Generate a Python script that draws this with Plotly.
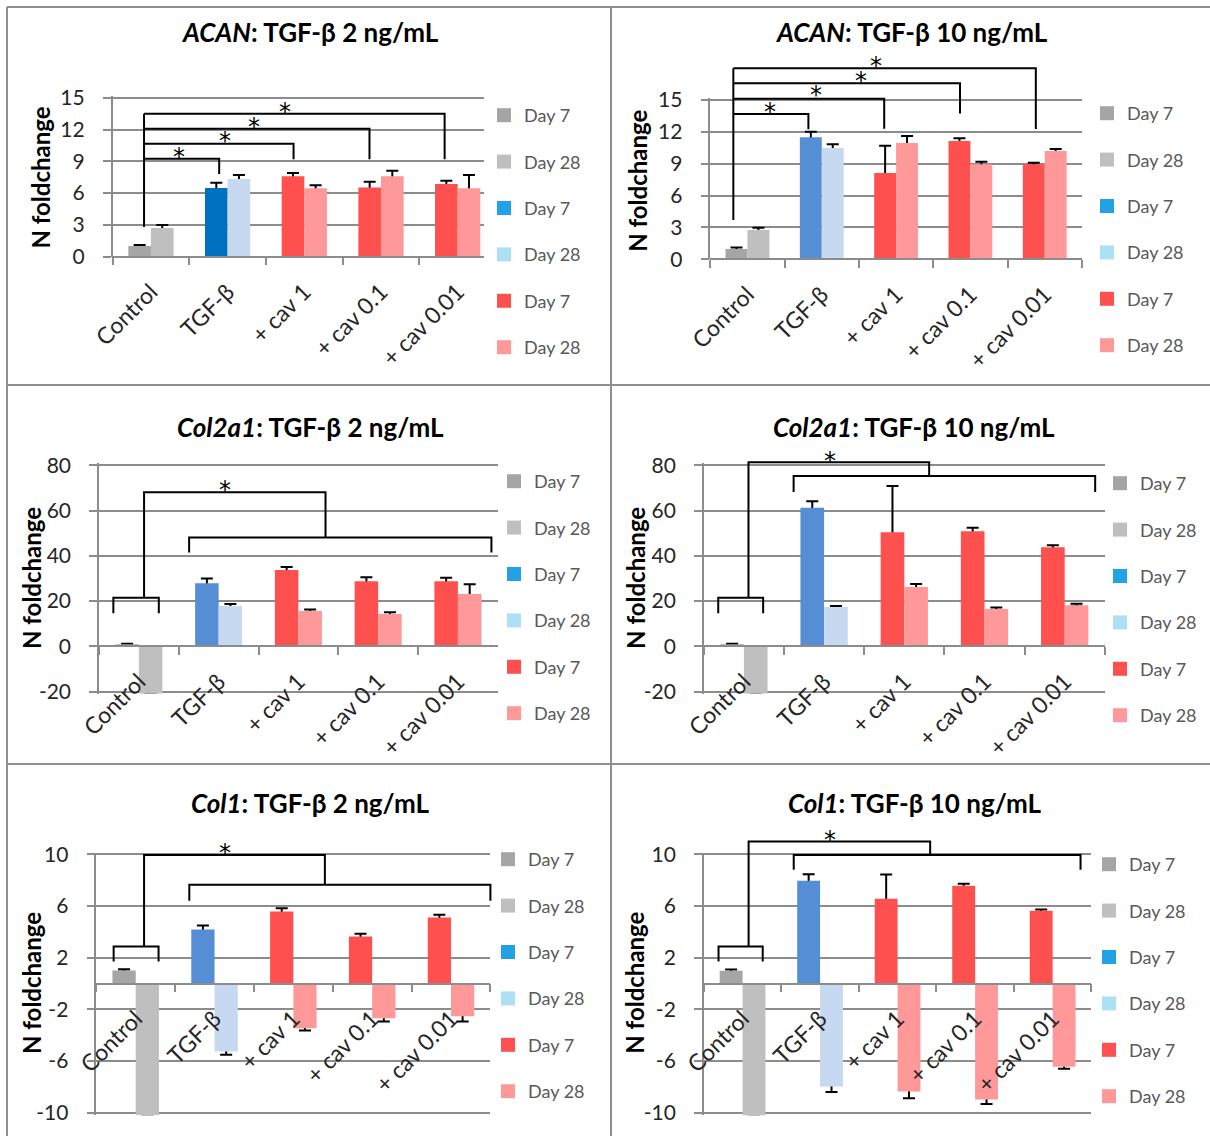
import plotly.graph_objects as go

W, H = 1210, 1136
FONT = "Lato, 'Open Sans', 'DejaVu Sans', sans-serif"
STAR_FONT = "'DejaVu Sans', sans-serif"
GRID_COLOR = "#8C8C8C"
BORDER_COLOR = "#8E8E8E"
TEXT_COLOR = "#262626"
LEGEND_TEXT = "#595959"

# ---------------- categories / legend ----------------
CATEGORIES = ["Control", "TGF-β", "+ cav 1", "+ cav 0.1", "+ cav 0.01"]
LEGEND_LABELS = ["Day 7", "Day 28", "Day 7", "Day 28", "Day 7", "Day 28"]
LEGEND_COLORS = ["#A5A5A5", "#BFBFBF", "#22A1E4", "#ADDFF5", "#FF5050", "#FF9999"]
CONTROL_COLORS = ["#A5A5A5", "#BFBFBF"]
TGF_COLORS_2 = ["#0070C0", "#C6D9F1"]
TGF_COLORS_10 = ["#558ED5", "#C6D9F1"]
CAV_COLORS = ["#FF5050", "#FF9999"]

# ---------------- data (N foldchange) ----------------
ACAN_2_DAY7 = [1.0, 6.48, 7.6, 6.54, 6.86]
ACAN_2_DAY7_ERR = [0.1, 0.5, 0.3, 0.54, 0.3]
ACAN_2_DAY28 = [2.7, 7.33, 6.45, 7.6, 6.45]
ACAN_2_DAY28_ERR = [0.3, 0.37, 0.28, 0.5, 1.25]

ACAN_10_DAY7 = [0.97, 11.5, 8.13, 11.14, 8.94]
ACAN_10_DAY7_ERR = [0.13, 0.5, 2.57, 0.25, 0.16]
ACAN_10_DAY28 = [2.76, 10.48, 10.95, 8.94, 10.2]
ACAN_10_DAY28_ERR = [0.22, 0.35, 0.65, 0.25, 0.19]

COL2A1_2_DAY7 = [1.0, 27.9, 33.7, 28.8, 28.8]
COL2A1_2_DAY7_ERR = [0.2, 2.1, 1.4, 1.8, 1.5]
COL2A1_2_DAY28 = [-21.0, 17.8, 15.6, 14.3, 23.1]
COL2A1_2_DAY28_ERR = [0.0, 0.9, 0.7, 0.8, 4.4]

COL2A1_10_DAY7 = [1.0, 61.3, 50.4, 50.9, 43.8]
COL2A1_10_DAY7_ERR = [0.2, 2.8, 20.5, 1.5, 0.9]
COL2A1_10_DAY28 = [-21.0, 17.4, 26.2, 16.5, 18.2]
COL2A1_10_DAY28_ERR = [0.0, 0.5, 1.4, 0.7, 0.6]

COL1_2_DAY7 = [1.0, 4.18, 5.57, 3.64, 5.11]
COL1_2_DAY7_ERR = [0.1, 0.31, 0.26, 0.21, 0.21]
COL1_2_DAY28 = [-10.2, -5.26, -3.46, -2.68, -2.53]
COL1_2_DAY28_ERR = [0.0, 0.26, 0.18, 0.26, 0.41]

COL1_10_DAY7 = [0.98, 7.95, 6.55, 7.56, 5.63]
COL1_10_DAY7_ERR = [0.1, 0.51, 1.89, 0.16, 0.1]
COL1_10_DAY28 = [-10.25, -7.97, -8.36, -8.98, -6.45]
COL1_10_DAY28_ERR = [0.0, 0.42, 0.52, 0.34, 0.15]

# ---------------- significance brackets (category units, value units) ----------------
ACAN_2_FAN_X = -0.09
ACAN_2_FAN_BASE = 2.8
ACAN_2_ARM_X = [0.89, 1.86, 2.85, 3.83]
ACAN_2_ARM_LEVEL = [9.25, 10.66, 12.08, 13.49]
ACAN_2_ARM_END = [7.8, 9.2, 9.2, 9.2]
ACAN_2_STAR_X = [0.37, 0.96, 1.35, 1.75]
ACAN_2_STAR_Y = [10.0, 11.5, 12.8, 14.2]

ACAN_10_FAN_X = -0.19
ACAN_10_FAN_BASE = 3.7
ACAN_10_ARM_X = [0.82, 1.84, 2.86, 3.88]
ACAN_10_ARM_LEVEL = [13.68, 15.12, 16.57, 17.98]
ACAN_10_ARM_END = [12.24, 12.3, 13.74, 12.27]
ACAN_10_STAR_X = [0.30, 0.92, 1.53, 1.73]
ACAN_10_STAR_Y = [14.43, 16.0, 17.35, 18.76]

# [left, right, level, leg end]
COL2A1_2_CTRL = [-0.32, 0.25, 21.5, 14.6]
COL2A1_2_STEM = [0.065, 68.1, 2.34]      # stem x, top level, top right x
COL2A1_2_GROUP = [0.63, 4.42, 48.1, 41.5]
COL2A1_2_STAR = [1.08, 71.6]

COL2A1_10_CTRL = [-0.32, 0.24, 21.5, 14.6]
COL2A1_10_STEM = [0.057, 81.3, 2.31]
COL2A1_10_GROUP = [0.62, 4.38, 75.3, 68.2]
COL2A1_10_STAR = [1.07, 84.7]

COL1_2_CTRL = [-0.28, 0.29, 2.86, 1.7]
COL1_2_STEM = [0.106, 9.94, 2.4]
COL1_2_GROUP = [0.68, 4.5, 7.64, 6.4]
COL1_2_STAR = [1.13, 10.55]

COL1_10_CTRL = [-0.31, 0.26, 2.86, 1.7]
COL1_10_STEM = [0.078, 11.0, 2.42]
COL1_10_GROUP = [0.66, 4.36, 9.94, 8.8]
COL1_10_STAR = [1.13, 11.6]

ACAN_TICKS = [0, 3, 6, 9, 12, 15]
COL2A1_TICKS = [-20, 0, 20, 40, 60, 80]
COL1_TICKS = [-10, -6, -2, 2, 6, 10]


def fan(x0, base, arm_x, arm_lvl, arm_end):
    lines = [[(x0, base), (x0, max(arm_lvl))]]
    for xr, lv, en in zip(arm_x, arm_lvl, arm_end):
        lines.append([(x0, lv), (xr, lv), (xr, en)])
    return lines


def group_bracket(ctrl, stem, grp):
    a, b, lv, leg = ctrl
    sx, top, tx = stem
    ga, gb, glv, gleg = grp
    return [
        [(a, leg), (a, lv), (b, lv), (b, leg)],
        [(sx, lv), (sx, top), (tx, top), (tx, glv)],
        [(ga, gleg), (ga, glv), (gb, glv), (gb, gleg)],
    ]


PANELS = [
    dict(title="<b><i>ACAN</i>: TGF-β 2 ng/mL</b>",
         d7=ACAN_2_DAY7, e7=ACAN_2_DAY7_ERR, d28=ACAN_2_DAY28, e28=ACAN_2_DAY28_ERR,
         tgf=TGF_COLORS_2, ticks=ACAN_TICKS, yrange=[0, 15.15],
         lines=fan(ACAN_2_FAN_X, ACAN_2_FAN_BASE, ACAN_2_ARM_X, ACAN_2_ARM_LEVEL, ACAN_2_ARM_END),
         stars=list(zip(ACAN_2_STAR_X, ACAN_2_STAR_Y)),
         plot_px=(112.6, 496.0), ymap=(15, 97.7, 0, 256.7),
         title_px=(310, 32), ylab_px=(39.6, 178), legend_px=(484, 97), legend_bg="white"),
    dict(title="<b><i>ACAN</i>: TGF-β 10 ng/mL</b>",
         d7=ACAN_10_DAY7, e7=ACAN_10_DAY7_ERR, d28=ACAN_10_DAY28, e28=ACAN_10_DAY28_ERR,
         tgf=TGF_COLORS_10, ticks=ACAN_TICKS, yrange=[0, 15.15],
         lines=fan(ACAN_10_FAN_X, ACAN_10_FAN_BASE, ACAN_10_ARM_X, ACAN_10_ARM_LEVEL, ACAN_10_ARM_END),
         stars=list(zip(ACAN_10_STAR_X, ACAN_10_STAR_Y)),
         plot_px=(710.3, 1081.9), ymap=(15, 100.0, 0, 259.3),
         title_px=(911, 32), ylab_px=(636.8, 181), legend_px=(1087, 95), legend_bg="rgba(0,0,0,0)"),
    dict(title="<b><i>Col2a1</i>: TGF-β 2 ng/mL</b>",
         d7=COL2A1_2_DAY7, e7=COL2A1_2_DAY7_ERR, d28=COL2A1_2_DAY28, e28=COL2A1_2_DAY28_ERR,
         tgf=TGF_COLORS_10, ticks=COL2A1_TICKS, yrange=[-20.8, 80.8],
         lines=group_bracket(COL2A1_2_CTRL, COL2A1_2_STEM, COL2A1_2_GROUP),
         stars=[tuple(COL2A1_2_STAR)],
         plot_px=(99.0, 497.8), ymap=(80, 465.3, -20, 691.7),
         title_px=(310.6, 426.7), ylab_px=(31, 578), legend_px=(494, 463), legend_bg="rgba(0,0,0,0)"),
    dict(title="<b><i>Col2a1</i>: TGF-β 10 ng/mL</b>",
         d7=COL2A1_10_DAY7, e7=COL2A1_10_DAY7_ERR, d28=COL2A1_10_DAY28, e28=COL2A1_10_DAY28_ERR,
         tgf=TGF_COLORS_10, ticks=COL2A1_TICKS, yrange=[-20.8, 80.8],
         lines=group_bracket(COL2A1_10_CTRL, COL2A1_10_STEM, COL2A1_10_GROUP),
         stars=[tuple(COL2A1_10_STAR)],
         plot_px=(703.8, 1104.8), ymap=(80, 465.3, -20, 691.7),
         title_px=(914.2, 426.7), ylab_px=(634.9, 578), legend_px=(1100, 465), legend_bg="rgba(0,0,0,0)"),
    dict(title="<b><i>Col1</i>: TGF-β 2 ng/mL</b>",
         d7=COL1_2_DAY7, e7=COL1_2_DAY7_ERR, d28=COL1_2_DAY28, e28=COL1_2_DAY28_ERR,
         tgf=TGF_COLORS_10, ticks=COL1_TICKS, yrange=[-10.2, 10.12],
         lines=group_bracket(COL1_2_CTRL, COL1_2_STEM, COL1_2_GROUP),
         stars=[tuple(COL1_2_STAR)],
         plot_px=(96.3, 490.4), ymap=(10, 854.3, -10, 1112.7),
         title_px=(310.2, 803.3), ylab_px=(31, 983), legend_px=(488, 841), legend_bg="rgba(0,0,0,0)"),
    dict(title="<b><i>Col1</i>: TGF-β 10 ng/mL</b>",
         d7=COL1_10_DAY7, e7=COL1_10_DAY7_ERR, d28=COL1_10_DAY28, e28=COL1_10_DAY28_ERR,
         tgf=TGF_COLORS_10, ticks=COL1_TICKS, yrange=[-10.2, 10.12],
         lines=group_bracket(COL1_10_CTRL, COL1_10_STEM, COL1_10_GROUP),
         stars=[tuple(COL1_10_STAR)],
         plot_px=(703.8, 1091.4), ymap=(10, 854.3, -10, 1112.7),
         title_px=(914.6, 803), ylab_px=(633.7, 983), legend_px=(1089, 846), legend_bg="rgba(0,0,0,0)"),
]


def py_of(v, ymap):
    va, pa, vb, pb = ymap
    return pb + (v - vb) * (pa - pb) / (va - vb)


def dom_x(c):
    return (c + 0.5) / len(CATEGORIES)


def dom_y(v, rng):
    return (v - rng[0]) / (rng[1] - rng[0])


fig = go.Figure()
shapes = []
annotations = []
layout = dict(
    width=W, height=H, margin=dict(l=0, r=0, t=0, b=0, pad=0, autoexpand=False),
    paper_bgcolor="white", plot_bgcolor="rgba(0,0,0,0)",
    barmode="group", bargap=0.41, bargroupgap=0,
    font=dict(family=FONT, color=TEXT_COLOR), showlegend=True,
)

for k, p in enumerate(PANELS, start=1):
    s = "" if k == 1 else str(k)
    xn, yn = "x" + s, "y" + s
    rng = p["yrange"]
    ag = f"p{k}"
    # error-bar carrier traces (drawn first so visible bars hide lower halves)
    for vals, errs, grp in ((p["d7"], p["e7"], "d7"), (p["d28"], p["e28"], "d28")):
        fig.add_trace(go.Bar(
            x=CATEGORIES, y=vals, offsetgroup=grp, alignmentgroup=ag,
            marker=dict(color="rgba(0,0,0,0)", line=dict(width=0)),
            error_y=dict(type="data", array=errs, symmetric=True, color="black",
                         thickness=2, width=6),
            xaxis=xn, yaxis=yn, showlegend=False, hoverinfo="skip"))
    for sl, cols in ((slice(0, 1), CONTROL_COLORS), (slice(1, 2), p["tgf"]), (slice(2, 5), CAV_COLORS)):
        for vals, grp, col in ((p["d7"], "d7", cols[0]), (p["d28"], "d28", cols[1])):
            fig.add_trace(go.Bar(
                x=CATEGORIES[sl], y=vals[sl], offsetgroup=grp, alignmentgroup=ag,
                marker=dict(color=col, line=dict(width=0)),
                xaxis=xn, yaxis=yn, showlegend=False))
    legname = "legend" + s
    for i, (lab, col) in enumerate(zip(LEGEND_LABELS, LEGEND_COLORS)):
        fig.add_trace(go.Scatter(
            x=[None], y=[None], mode="markers", name=lab,
            marker=dict(symbol="square", size=14, color=col, line=dict(width=0)),
            legend=legname, legendgroup=f"p{k}g{i}", showlegend=True,
            xaxis=xn, yaxis=yn))

    x0p, x1p = p["plot_px"]
    ymap = p["ymap"]
    layout["xaxis" + s] = dict(
        domain=[x0p / W, x1p / W], anchor="free", position=1 - py_of(0, ymap) / H,
        type="category", categoryorder="array", categoryarray=CATEGORIES,
        range=[-0.5, len(CATEGORIES) - 0.5],
        showline=True, linecolor=GRID_COLOR, linewidth=1.5,
        ticks="outside", tickson="boundaries", ticklen=8, tickwidth=1.5, tickcolor=GRID_COLOR,
        tickangle=-45, tickfont=dict(size=23, color=TEXT_COLOR, family=FONT),
        ticklabelstandoff=12,
        showgrid=False, zeroline=False, fixedrange=True, automargin=False)
    layout["yaxis" + s] = dict(
        domain=[1 - py_of(rng[0], ymap) / H, 1 - py_of(rng[1], ymap) / H],
        anchor=xn, range=rng, tickmode="array", tickvals=p["ticks"],
        ticktext=[str(v) for v in p["ticks"]],
        showline=True, linecolor=GRID_COLOR, linewidth=1.5,
        ticks="outside", ticklen=8, tickwidth=1.5, tickcolor=GRID_COLOR,
        showgrid=True, gridcolor=GRID_COLOR, gridwidth=1.5, zeroline=False,
        tickfont=dict(size=21, color=TEXT_COLOR, family=FONT), ticklabelstandoff=14,
        fixedrange=True, automargin=False)
    lx, ly = p["legend_px"]
    layout[legname] = dict(
        x=lx / W, y=1 - ly / H, xanchor="left", yanchor="top",
        bgcolor=p["legend_bg"], borderwidth=0,
        font=dict(size=18, color=LEGEND_TEXT, family=FONT),
        tracegroupgap=20, itemwidth=30, traceorder="grouped")

    xref = ("x" if k == 1 else f"x{k}") + " domain"
    yref = ("y" if k == 1 else f"y{k}") + " domain"
    for pts in p["lines"]:
        path = " ".join(("M" if i == 0 else "L") + f"{dom_x(c):.5f},{dom_y(v, rng):.5f}"
                        for i, (c, v) in enumerate(pts))
        shapes.append(dict(type="path", path=path, xref=xref, yref=yref,
                           line=dict(color="black", width=2)))
    for c, v in p["stars"]:
        annotations.append(dict(text="*", x=dom_x(c), y=dom_y(v, rng), xref=xref, yref=yref,
                                showarrow=False, xanchor="center", yanchor="middle", yshift=-6,
                                font=dict(size=24, color="black", family=STAR_FONT)))
    tx, ty = p["title_px"]
    annotations.append(dict(text=p["title"], x=tx / W, y=1 - ty / H, xref="paper", yref="paper",
                            showarrow=False, xanchor="center", yanchor="middle",
                            font=dict(size=26, color="black", family=FONT)))
    lxp, lyp = p["ylab_px"]
    annotations.append(dict(text="<b>N foldchange</b>", x=lxp / W, y=1 - lyp / H,
                            xref="paper", yref="paper", showarrow=False, textangle=-90,
                            xanchor="center", yanchor="middle",
                            font=dict(size=24, color="black", family=FONT)))

# panel frame lines
FRAME_H = [(7, 7, W), (385, 7, W), (764, 7, W)]       # y, x-from, x-to
FRAME_V = [(7, 7, H), (611, 7, H)]                      # x, y-from, y-to
for y, xa, xb in FRAME_H:
    shapes.append(dict(type="line", xref="paper", yref="paper", x0=xa / W, x1=xb / W,
                       y0=1 - y / H, y1=1 - y / H, line=dict(color=BORDER_COLOR, width=2)))
for x, ya, yb in FRAME_V:
    shapes.append(dict(type="line", xref="paper", yref="paper", x0=x / W, x1=x / W,
                       y0=1 - ya / H, y1=1 - yb / H, line=dict(color=BORDER_COLOR, width=2)))

layout["shapes"] = shapes
layout["annotations"] = annotations
fig.update_layout(**layout)
fig.write_html("out.html", config={"displayModeBar": False},
               post_script="document.body.style.margin='0px';")
